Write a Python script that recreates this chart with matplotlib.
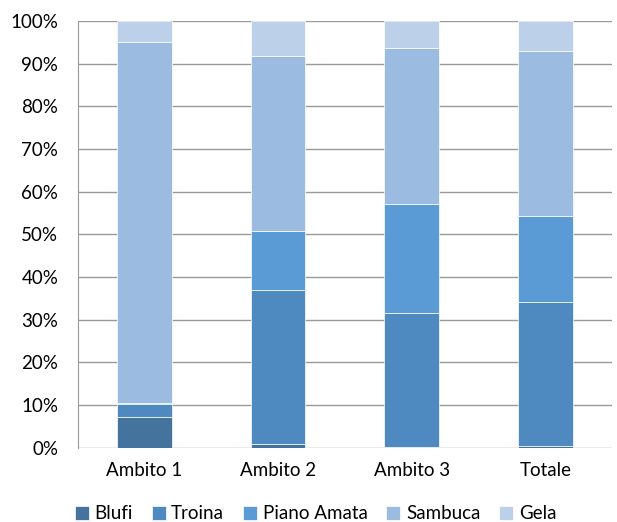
import matplotlib
matplotlib.use("Agg")
import matplotlib.pyplot as plt
import numpy as np
from matplotlib.ticker import PercentFormatter

plt.rcParams["font.family"] = ["Lato", "DejaVu Sans"]

categories = ["Ambito 1", "Ambito 2", "Ambito 3", "Totale"]
series = ["Blufi", "Troina", "Piano Amata", "Sambuca", "Gela"]
blufi = [7.3, 0.9, 0.2, 0.4]
troina = [3.0, 36.1, 31.4, 33.8]
piano_amata = [0.2, 13.8, 25.4, 20.2]
sambuca = [84.6, 41.0, 36.6, 38.6]
gela = [4.9, 8.2, 6.4, 7.0]
colors = ["#44739E", "#4E8ABF", "#5B9BD5", "#9BBBE0", "#BCD0EA"]

values = [blufi, troina, piano_amata, sambuca, gela]
x = np.arange(len(categories))

fig = plt.figure(figsize=(6.17, 5.22), dpi=100)
ax = fig.add_axes([0.126, 0.142, 0.866, 0.818])

bottom = np.zeros(len(categories))
for name, vals, col in zip(series, values, colors):
    vals = np.array(vals)
    ax.bar(x, vals, 0.41, bottom=bottom, color=col, label=name,
           edgecolor="white", linewidth=0.5, zorder=3)
    bottom += vals

ax.set_ylim(0, 100)
ax.set_xlim(-0.5, 3.5)
ax.set_yticks(np.arange(0, 101, 10))
ax.yaxis.set_major_formatter(PercentFormatter(decimals=0))
ax.set_xticks(x)
ax.set_xticklabels(categories)
ax.tick_params(length=0, labelsize=13.5)
ax.tick_params(axis="y", pad=14)
ax.tick_params(axis="x", pad=10)
ax.grid(axis="y", color="#999999", linewidth=1.0, zorder=0)
for side in ["top", "right", "bottom"]:
    ax.spines[side].set_visible(False)
ax.spines["left"].set_color("#999999")

ax.legend(loc="upper center", bbox_to_anchor=(0.445, -0.095), ncol=5, frameon=False,
          fontsize=13.5, handlelength=0.75, handleheight=0.75, handletextpad=0.3,
          columnspacing=1.0)

plt.savefig("out.png", dpi=100)
plt.close()
